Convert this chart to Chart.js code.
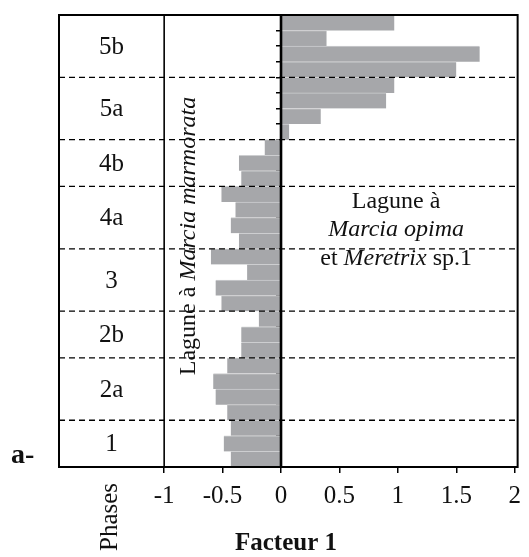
<!DOCTYPE html>
<html>
<head>
<meta charset="utf-8">
<script src="https://cdn.jsdelivr.net/npm/chart.js@4"></script>
<style>
html,body{margin:0;padding:0;background:#fff;}
#wrap{width:529px;height:557px;}
</style>
</head>
<body>
<div id="wrap"><canvas id="c" width="529" height="557"></canvas></div>
<script>
// ---- data (top to bottom) ----
const samples = ['s29','s28','s27','s26','s25','s24','s23','s22','s21','s20','s19','s18','s17','s16','s15','s14','s13','s12','s11','s10','s9','s8','s7','s6','s5','s4','s3','s2','s1'];
const factor1 = [0.97, 0.39, 1.70, 1.50,
                 0.97, 0.90, 0.34, 0.07,
                 -0.14, -0.36, -0.34,
                 -0.51, -0.39, -0.43, -0.36,
                 -0.60, -0.29, -0.56, -0.51,
                 -0.19, -0.34, -0.34,
                 -0.46, -0.58, -0.56, -0.46,
                 -0.43, -0.49, -0.43];
const phaseNames = ['5b','5a','4b','4a','3','2b','2a','1'];
const phaseSizes = [4, 4, 3, 4, 4, 3, 4, 3];
const xTickValues = [-1, -0.5, 0, 0.5, 1, 1.5, 2];

const SERIF = '"Liberation Serif", "Times New Roman", serif';

const overlay = {
  id: 'overlay',
  afterDatasetsDraw(chart) {
    const ctx = chart.ctx;
    const ca = chart.chartArea;
    const xs = chart.scales.x, ys = chart.scales.y;
    ctx.save();
    ctx.strokeStyle = '#000';
    // phase boundaries
    const bounds = [];
    let idx = 0;
    const tops = [];
    phaseSizes.forEach((n, k) => {
      const yTop = idx === 0 ? ca.top : (ys.getPixelForValue(idx - 1) + ys.getPixelForValue(idx)) / 2;
      idx += n;
      const yBot = idx >= samples.length ? ca.bottom : (ys.getPixelForValue(idx - 1) + ys.getPixelForValue(idx)) / 2;
      tops.push([yTop, yBot]);
      if (idx < samples.length) bounds.push(yBot);
    });
    ctx.lineWidth = 1.3;
    ctx.setLineDash([6, 4]);
    bounds.forEach(y => {
      ctx.beginPath();
      ctx.moveTo(ca.left, y);
      ctx.lineTo(ca.right, y);
      ctx.stroke();
    });
    ctx.setLineDash([]);
    // vertical line at -1
    const xm1 = xs.getPixelForValue(-1);
    ctx.lineWidth = 1.6;
    ctx.beginPath(); ctx.moveTo(xm1, ca.top); ctx.lineTo(xm1, ca.bottom); ctx.stroke();
    // zero line
    const x0 = xs.getPixelForValue(0);
    ctx.lineWidth = 2.6;
    ctx.beginPath(); ctx.moveTo(x0, ca.top); ctx.lineTo(x0, ca.bottom); ctx.stroke();
    // frame
    ctx.lineWidth = 2;
    ctx.strokeRect(ca.left, ca.top, ca.right - ca.left, ca.bottom - ca.top);

    // phase labels
    ctx.fillStyle = '#111';
    ctx.font = '25px ' + SERIF;
    ctx.textAlign = 'center';
    ctx.textBaseline = 'middle';
    const xPhase = (ca.left + xm1) / 2;
    phaseNames.forEach((p, k) => {
      ctx.fillText(p, xPhase, (tops[k][0] + tops[k][1]) / 2 + 1);
    });

    // vertical label Lagune à Marcia marmorata
    const normalF = '24px ' + SERIF, italF = 'italic 24px ' + SERIF;
    ctx.font = normalF;
    const part1 = 'Lagune à ';
    const w1 = ctx.measureText(part1).width;
    ctx.font = italF;
    const part2 = 'Marcia marmorata';
    const w2 = ctx.measureText(part2).width;
    ctx.save();
    ctx.translate(xs.getPixelForValue(-0.74), 236);
    ctx.rotate(-Math.PI / 2);
    ctx.textAlign = 'left';
    ctx.textBaseline = 'alphabetic';
    ctx.font = normalF;
    ctx.fillText(part1, -(w1 + w2) / 2, 0);
    ctx.font = italF;
    ctx.fillText(part2, -(w1 + w2) / 2 + w1, 0);
    ctx.restore();

    // right label
    const xr = xs.getPixelForValue(0.985);
    ctx.textAlign = 'center';
    ctx.textBaseline = 'alphabetic';
    ctx.font = normalF;
    ctx.fillText('Lagune à', xr, 208);
    ctx.font = italF;
    ctx.fillText('Marcia opima', xr, 236);
    // mixed line
    ctx.font = normalF; const a1 = 'et '; const wa1 = ctx.measureText(a1).width;
    ctx.font = italF; const a2 = 'Meretrix'; const wa2 = ctx.measureText(a2).width;
    ctx.font = normalF; const a3 = ' sp.1'; const wa3 = ctx.measureText(a3).width;
    let sx = xr - (wa1 + wa2 + wa3) / 2;
    ctx.textAlign = 'left';
    ctx.font = normalF; ctx.fillText(a1, sx, 265); sx += wa1;
    ctx.font = italF; ctx.fillText(a2, sx, 265); sx += wa2;
    ctx.font = normalF; ctx.fillText(a3, sx, 265);

    // "Phases" rotated
    ctx.save();
    ctx.translate(117, 517);
    ctx.rotate(-Math.PI / 2);
    ctx.textAlign = 'center';
    ctx.textBaseline = 'alphabetic';
    ctx.font = '25px ' + SERIF;
    ctx.fillText('Phases', 0, 0);
    ctx.restore();

    // axis title
    ctx.textAlign = 'center';
    ctx.font = 'bold 25px ' + SERIF;
    ctx.fillText('Facteur 1', 286, 550);
    // panel letter
    ctx.textAlign = 'left';
    ctx.font = 'bold 28px ' + SERIF;
    ctx.fillText('a-', 11, 463);
    ctx.restore();
  }
};

new Chart(document.getElementById('c'), {
  type: 'bar',
  data: {
    labels: samples,
    datasets: [{
      data: factor1,
      backgroundColor: '#a6a7aa',
      borderColor: '#cdced0',
      borderWidth: {top: 1, bottom: 0, left: 0, right: 0},
      borderSkipped: false,
      categoryPercentage: 1,
      barPercentage: 1
    }]
  },
  options: {
    indexAxis: 'y',
    responsive: false,
    animation: false,
    devicePixelRatio: 1,
    layout: {padding: {left: 59, right: 7, top: 15, bottom: 38}},
    plugins: {legend: {display: false}, tooltip: {enabled: false}},
    scales: {
      x: {
        type: 'linear',
        min: -1.9,
        max: 2.025,
        afterBuildTicks: (scale) => { scale.ticks = xTickValues.map(v => ({value: v})); },
        grid: {drawOnChartArea: false, drawTicks: true, tickLength: 6, color: '#000', lineWidth: 1.5},
        border: {display: false},
        ticks: {
          color: '#111',
          font: {family: SERIF, size: 25},
          padding: 8,
          maxRotation: 0,
          autoSkip: false,
          callback: (v) => String(v)
        }
      },
      y: {
        position: {x: 0},
        grid: {drawOnChartArea: false, drawTicks: true, tickLength: 5, color: '#000', lineWidth: 1.5, offset: true},
        border: {display: false},
        ticks: {display: false}
      }
    }
  },
  plugins: [overlay]
});
</script>
</body>
</html>
